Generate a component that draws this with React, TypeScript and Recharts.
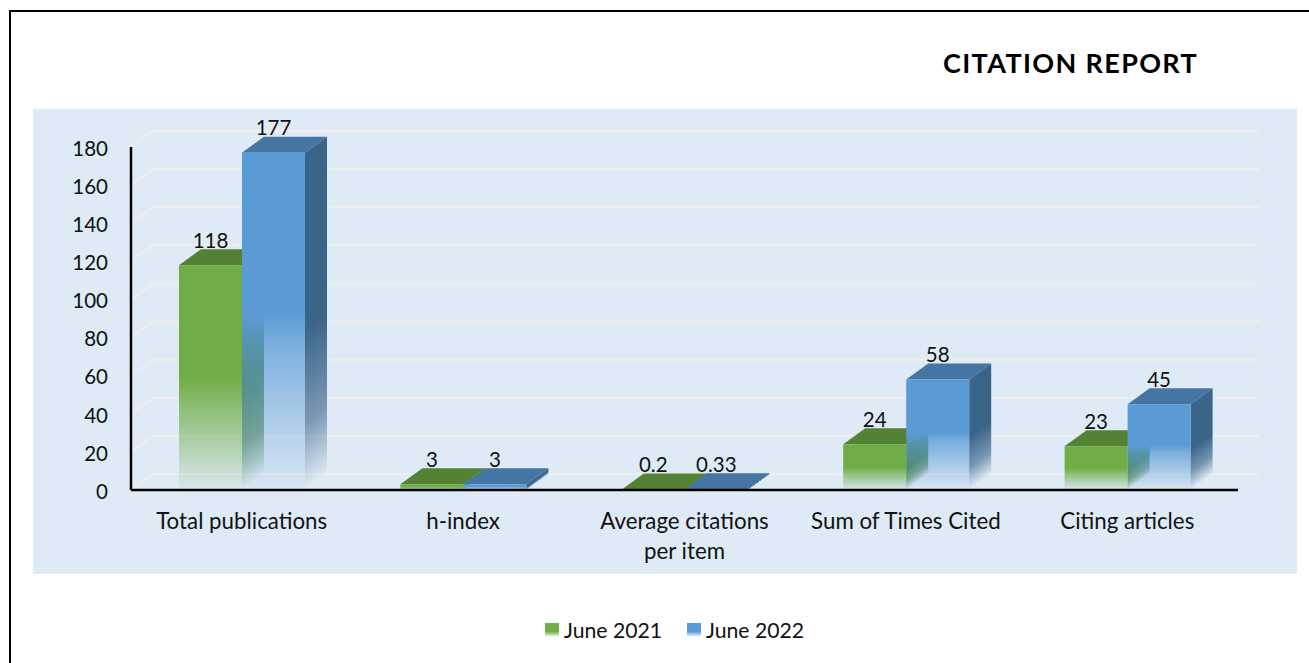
import React from "react";
import { BarChart, Bar, XAxis, YAxis, CartesianGrid, Legend, LabelList } from "recharts";

const categories = ["Total publications", "h-index", "Average citations per item", "Sum of Times Cited", "Citing articles"];
const june2021 = [118, 3, 0.2, 24, 23];
const june2022 = [177, 3, 0.33, 58, 45];
const yTicks = [0, 20, 40, 60, 80, 100, 120, 140, 160, 180];
const wrappedLabels: Record<string, string[]> = {
  "Average citations per item": ["Average citations", "per item"],
};

const table = categories.map((name, i) => ({ name, june2021: june2021[i], june2022: june2022[i] }));

const FONT = "Lato, Carlito, sans-serif";
const DX = 22;
const DY = 16;
const INK = "#111";

type Look = { id: string; front: string; top: string; side: string };
const greenLook: Look = { id: "g", front: "#70ad47", top: "#548235", side: "#4a7f3a" };
const blueLook: Look = { id: "b", front: "#5b9bd5", top: "#4575a2", side: "#3b6489" };

function FrontGradient({ id, color, stop, next }: { id: string; color: string; stop: number; next: number }) {
  return (
    <linearGradient id={id} x1="0" y1="0" x2="0" y2="1">
      <stop offset="0" stopColor={color} stopOpacity={1} />
      <stop offset={stop} stopColor={color} stopOpacity={1} />
      <stop offset={stop + 0.08} stopColor={color} stopOpacity={next} />
      <stop offset="1" stopColor={color} stopOpacity={0.04} />
    </linearGradient>
  );
}

function SideGradient({ id, color }: { id: string; color: string }) {
  return (
    <linearGradient id={id} x1="0" y1="0" x2="0" y2="1">
      <stop offset="0" stopColor={color} stopOpacity={1} />
      <stop offset={0.52} stopColor={color} stopOpacity={1} />
      <stop offset={0.8} stopColor={color} stopOpacity={0.62} />
      <stop offset="1" stopColor={color} stopOpacity={0} />
    </linearGradient>
  );
}

const barShape = (look: Look) => (props: any) => {
  const { x, y, width: w, height: h } = props;
  const top = `M${x},${y}L${x + DX},${y - DY}L${x + w + DX},${y - DY}L${x + w},${y}Z`;
  return (
    <g>
      <path d={top} fill={look.top} />
      <rect
        x={0}
        y={0}
        width={DX}
        height={h}
        fill={`url(#${look.id}Side)`}
        transform={`matrix(1,${-DY / DX},0,1,${x + w},${y})`}
      />
      <rect x={x} y={y} width={w} height={h} fill={`url(#${look.id}Front)`} />
    </g>
  );
};

const gridLine = (props: any) => {
  const { x1, x2, y1, key } = props;
  return (
    <path
      key={key}
      d={`M${x1},${y1}L${x1 + DX},${y1 - DY}L${x2 + DX},${y1 - DY}`}
      fill="none"
      stroke="#efeeeb"
      strokeWidth={2}
    />
  );
};

const valueLabel = (props: any) => {
  const { x, y, width, value } = props;
  return (
    <text x={x + width / 2} y={y - 17.5} textAnchor="middle" fontFamily={FONT} fontSize={20.5} fill={INK}>
      {value}
    </text>
  );
};

const categoryTick = (props: any) => {
  const { x, y, payload } = props;
  const lines = wrappedLabels[payload.value] ?? [payload.value];
  return (
    <text x={x} y={y + 37} textAnchor="middle" fontFamily={FONT} fontSize={22.3} fill={INK}>
      {lines.map((line, i) => (
        <tspan key={line} x={x} dy={i === 0 ? 0 : 30}>
          {line}
        </tspan>
      ))}
    </text>
  );
};

const legendContent = (props: any) => (
  <div style={{ display: "flex", fontFamily: FONT, fontSize: 21.2, color: INK, height: 30, alignItems: "center" }}>
    {props.payload.map((p: any) => (
      <div key={p.value} style={{ display: "flex", alignItems: "center", marginRight: 25 }}>
        <span
          style={{
            width: 14,
            height: 14,
            marginRight: 5,
            background: `linear-gradient(${p.color} 0%, ${p.color} 62%, #ffffff 100%)`,
          }}
        />
        <span>{p.value}</span>
      </div>
    ))}
  </div>
);

export default function App() {
  return (
    <div style={{ position: "absolute", left: 0, top: 0, width: 1309, height: 663, overflow: "hidden", background: "#fff" }}>
      <div style={{ position: "absolute", left: 9, top: 10, width: 1320, height: 700, border: "2px solid #000", boxSizing: "border-box" }} />
      <div style={{ position: "absolute", left: 33, top: 109, width: 1264, height: 465, background: "#deeaf6" }} />
      <div
        style={{
          position: "absolute",
          left: 943,
          top: 45,
          fontFamily: FONT,
          fontWeight: 700,
          fontSize: 27,
          letterSpacing: 1.35,
          lineHeight: "36px",
          color: "#000",
          whiteSpace: "nowrap",
        }}
      >
        CITATION REPORT
      </div>
      <div style={{ position: "absolute", left: 0, top: 0 }}>
        <BarChart
          width={1309}
          height={663}
          data={table}
          barSize={63}
          barGap={0}
          margin={{ top: 147, right: 71, bottom: 18, left: 71 }}
        >
          <defs>
            <FrontGradient id="gFront" color={greenLook.front} stop={0.5} next={0.84} />
            <SideGradient id="gSide" color={greenLook.side} />
            <FrontGradient id="bFront" color={blueLook.front} stop={0.48} next={0.76} />
            <SideGradient id="bSide" color={blueLook.side} />
          </defs>
          <CartesianGrid vertical={false} horizontal={gridLine} />
          <XAxis
            dataKey="name"
            height={125}
            interval={0}
            tickLine={false}
            tickSize={0}
            axisLine={{ stroke: "#000", strokeWidth: 2.5 }}
            tick={categoryTick}
          />
          <YAxis
            width={60}
            domain={[0, 180]}
            ticks={yTicks}
            interval={0}
            tickLine={false}
            tickSize={0}
            tickMargin={23}
            axisLine={{ stroke: "#000", strokeWidth: 2.5 }}
            tick={{ fontFamily: FONT, fontSize: 20.5, fill: INK, dy: 1.5 }}
          />
          <Legend
            verticalAlign="bottom"
            align="left"
            height={30}
            content={legendContent}
            wrapperStyle={{ left: 545, width: 320 }}
          />
          <Bar dataKey="june2021" name="June 2021" fill={greenLook.front} shape={barShape(greenLook)} isAnimationActive={false}>
            <LabelList dataKey="june2021" content={valueLabel} />
          </Bar>
          <Bar dataKey="june2022" name="June 2022" fill={blueLook.front} shape={barShape(blueLook)} isAnimationActive={false}>
            <LabelList dataKey="june2022" content={valueLabel} />
          </Bar>
        </BarChart>
      </div>
    </div>
  );
}
